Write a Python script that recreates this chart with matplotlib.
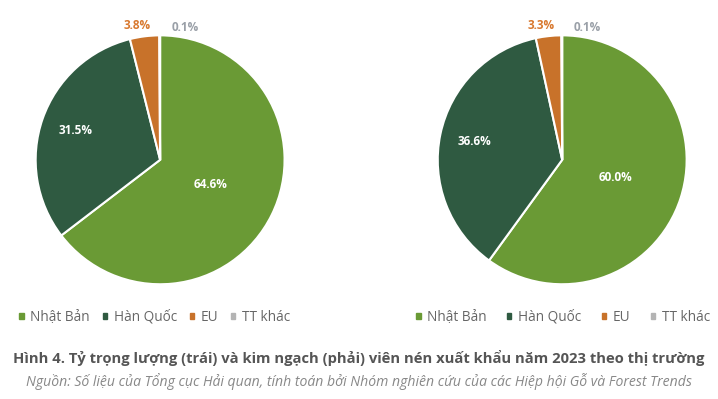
import numpy as np
from matplotlib import pyplot as plt
from matplotlib.patches import Rectangle

plt.rcParams['font.family'] = ['Open Sans', 'DejaVu Sans']

# du lieu
thi_truong = ['Nhật Bản', 'Hàn Quốc', 'EU', 'TT khác']
ty_trong_luong = [64.6, 31.5, 3.8, 0.1]
ty_trong_kim_ngach = [60.0, 36.6, 3.3, 0.1]
mau = ['#6a9a35', '#2f5a41', '#c8722a', '#b4b4b4']
mau_nhan = ['white', 'white', '#d8782e', '#9aa0a8']

fig = plt.figure(figsize=(7.18, 3.99), dpi=100)


def ve_pie(rect, values):
    ax = fig.add_axes(rect)
    wedges, _ = ax.pie(values, colors=mau, startangle=90, counterclock=False,
                       wedgeprops=dict(edgecolor='white', linewidth=1.5))
    ban_kinh = [0.45, 0.72]
    for i, (w, v) in enumerate(zip(wedges, values)):
        ang = np.deg2rad((w.theta1 + w.theta2) / 2)
        if i < 2:
            x, y = ban_kinh[i] * np.cos(ang), ban_kinh[i] * np.sin(ang)
        elif i == 2:
            x, y = np.cos(ang) - 0.06, 1.08
        else:
            x, y = 0.2, 1.06
        ax.text(x, y, f'{v:.1f}%', ha='center', va='center', fontsize=8.5,
                color=mau_nhan[i], fontweight='bold')
    ax.set_xlim(-1.05, 1.05)
    ax.set_ylim(-1.05, 1.05)
    ax.set_aspect('equal')
    return ax


ve_pie([0.040, 0.272, 0.366, 0.655], ty_trong_luong)
ve_pie([0.600, 0.272, 0.366, 0.655], ty_trong_kim_ngach)

# chu giai
for x0, cs in [(0.010, 0.95), (0.563, 1.5)]:
    handles = [Rectangle((0, 0), 1, 1, color=c) for c in mau]
    fig.legend(handles, thi_truong, loc='center left', bbox_to_anchor=(x0, 0.205),
               ncol=4, frameon=False, fontsize=9.8, handlelength=0.3, handleheight=0.3,
               handletextpad=0.5, columnspacing=cs, labelcolor='#666666')

fig.text(0.5, 0.103, 'Hình 4. Tỷ trọng lượng (trái) và kim ngạch (phải) viên nén xuất khẩu năm 2023 theo thị trường',
         ha='center', va='center', fontsize=10.6, fontweight='bold', color='#555555')
fig.text(0.5, 0.045, 'Nguồn: Số liệu của Tổng cục Hải quan, tính toán bởi Nhóm nghiên cứu của các Hiệp hội Gỗ và Forest Trends',
         ha='center', va='center', fontsize=10.1, style='italic', color='#888888')

fig.savefig('out.png', dpi=100)
